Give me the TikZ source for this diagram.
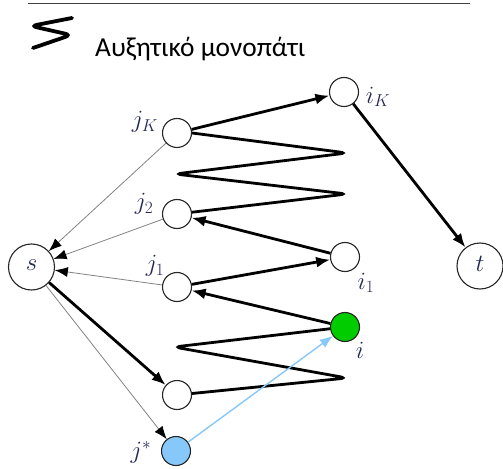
\documentclass[tikz,border=0pt]{standalone}
\usepackage{fontspec}
\setmainfont{Carlito}
\usetikzlibrary{arrows.meta}
\definecolor{lblc}{RGB}{35,40,85}
\definecolor{jstar}{RGB}{135,200,250}
\definecolor{igreen}{RGB}{0,204,0}
\definecolor{thin}{RGB}{130,130,130}
\begin{document}
\begin{tikzpicture}[x=1bp,y=-1bp,
  vert/.style={circle,draw=black!85,line width=1.1bp,fill=white,minimum size=29bp,inner sep=0pt},
  big/.style={circle,draw=black!85,line width=1.1bp,fill=white,minimum size=46bp,inner sep=0pt},
  lbl/.style={text=lblc,font=\fontsize{27}{29}\selectfont,inner sep=0pt},
  thick/.style={line width=2.8bp,-{Latex[length=14bp,width=11bp]}},
  wig/.style={line width=2.8bp,rounded corners=7bp},
  thinarr/.style={draw=thin,line width=0.8bp,-{Latex[color=black,length=13bp,width=10bp]}},
  bluearr/.style={draw=jstar,line width=1.4bp,-{Latex[length=13bp,width=10bp]}}
]
\useasboundingbox (0,0) rectangle (503,469);
% header
\draw[line width=1.6bp,black!75] (28,3.5) -- (470,3.5);
\draw[line width=3.8bp,line cap=round,rounded corners=6bp] (72,18) -- (31,26) -- (71,35) -- (33,48);
\node[anchor=base west,inner sep=0pt,font=\fontsize{27.5}{30}\selectfont] (title) at (95,57) {Αυξητικό μονοπάτι};
% nodes
\node[big] (s) at (31.5,267) {};
\node[lbl] (sl) at (31.5,265) {$s$};
\node[big] (t) at (480,266) {};
\node[lbl] (tl) at (480,264) {$t$};
\node[vert] (jK) at (177,133) {};
\node[vert] (j2) at (177,214) {};
\node[vert] (j1) at (177,287) {};
\node[vert] (b) at (177,395) {};
\node[vert,fill=jstar] (js) at (176,451) {};
\node[vert] (iK) at (344,92) {};
\node[vert] (i1) at (345,257) {};
\node[vert,fill=igreen] (i) at (345,327) {};
% labels
\node[lbl] (ljK) at (145,122) {$j_K$};
\node[lbl] (lj2) at (144,204) {$j_2$};
\node[lbl] (lj1) at (155,266) {$j_1$};
\node[lbl] (ljs) at (141,452) {$j^*$};
\node[lbl] (liK) at (378,97) {$i_K$};
\node[lbl] (li1) at (366,283) {$i_1$};
\node[lbl] (li) at (360,350) {$i$};
% wiggle coordinates
\coordinate (w1) at (347,153);
\coordinate (w2) at (175,174);
\coordinate (w3) at (347,194);
\coordinate (w4) at (174,347);
\coordinate (w5) at (347,378);
% thin edges to s
\draw[thinarr] (jK) -- (s);
\draw[thinarr] (j2) -- (s);
\draw[thinarr] (j1) -- (s);
\draw[thinarr] (s) -- (js);
% thick edges
\draw[thick] (jK) -- (iK);
\draw[thick] (iK) -- (t);
\draw[thick] (i1) -- (j2);
\draw[thick] (j1) -- (i1);
\draw[thick] (i) -- (j1);
\draw[thick] (s) -- (b);
% wiggles
\draw[wig] (jK.east) -- (w1) -- (w2) -- (w3) -- (j2);
\draw[wig] (i) -- (w4) -- (w5) -- (b);
% blue
\draw[bluearr] (js) -- (i);
\end{tikzpicture}
\end{document}
